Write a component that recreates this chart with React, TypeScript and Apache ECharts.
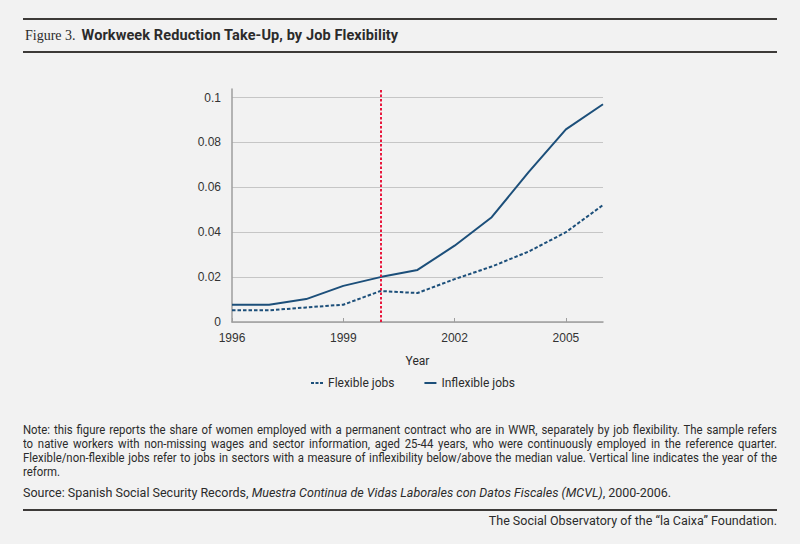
import { useEffect, useRef } from 'react'
import * as echarts from 'echarts'

// values
const years = [1996, 1997, 1998, 1999, 2000, 2001, 2002, 2003, 2004, 2005, 2006]
const flexibleJobs = [0.0052, 0.0052, 0.0065, 0.0077, 0.0138, 0.0129, 0.0191, 0.0247, 0.0314, 0.04, 0.0521]
const inflexibleJobs = [0.0077, 0.0077, 0.0102, 0.0161, 0.02, 0.0232, 0.034, 0.0467, 0.0669, 0.0858, 0.097]
const xTickYears = [1996, 1999, 2002, 2005]
const reformYear = 2000
const seriesNames = ['Flexible jobs', 'Inflexible jobs']

const noteLines = [
  'Note: this figure reports the share of women employed with a permanent contract who are in WWR, separately by job flexibility. The sample refers',
  'to native workers with non-missing wages and sector information, aged 25-44 years, who were continuously employed in the reference quarter.',
  'Flexible/non-flexible jobs refer to jobs in sectors with a measure of inflexibility below/above the median value. Vertical line indicates the year of the',
  'reform.',
]

const LINE_BLUE = '#1c4f7a'
const TEXT = '#2b2b2b'
const NOTE_SQUEEZE = 0.91

// legend icons: short solid bar and three dashes
const solidIcon = 'path://M0 0H12V2H0Z'
const dashedIcon = 'path://M0 0H3V2H0Z M4.5 0H7.5V2H4.5Z M9 0H12V2H9Z'

const App = () => {
  const chartRef = useRef<HTMLDivElement>(null)

  useEffect(() => {
    if (!chartRef.current) return
    const chart = echarts.init(chartRef.current, null, { renderer: 'svg' })

    const option = {
      animation: false,
      backgroundColor: 'transparent',
      grid: { left: 232, right: 197, top: 89, bottom: 222 },
      legend: {
        data: [
          { name: seriesNames[0], icon: dashedIcon },
          { name: seriesNames[1], icon: solidIcon },
        ],
        left: 311,
        top: 377,
        padding: 0,
        itemWidth: 12,
        itemHeight: 2,
        itemGap: 30,
        itemStyle: { color: LINE_BLUE, borderWidth: 0 },
        textStyle: { fontFamily: 'Roboto', fontSize: 12, color: TEXT },
      },
      xAxis: {
        type: 'value',
        min: 1996,
        max: 2006,
        name: 'Year',
        nameLocation: 'middle',
        nameGap: 33,
        nameTextStyle: { fontFamily: 'Roboto', fontSize: 12, color: TEXT },
        axisLine: { lineStyle: { color: '#9e9e9e', width: 1.5 } },
        axisTick: { show: true, inside: true, length: 4, customValues: xTickYears, lineStyle: { color: '#9e9e9e' } },
        axisLabel: {
          customValues: xTickYears,
          margin: 10,
          fontFamily: 'Liberation Sans',
          fontSize: 12,
          color: '#333',
          formatter: (v: number) => String(v),
        },
        splitLine: { show: false },
      },
      yAxis: {
        type: 'value',
        min: 0,
        max: 0.1038,
        interval: 0.02,
        axisLine: { show: true, lineStyle: { color: '#9e9e9e', width: 1.5 } },
        axisTick: { show: false },
        axisLabel: {
          showMaxLabel: false,
          margin: 11,
          fontFamily: 'Liberation Sans',
          fontSize: 12,
          color: '#333',
          padding: [0, 0, 6, 0],
          formatter: (v: number) => (Math.abs(v / 0.02 - Math.round(v / 0.02)) < 1e-6 ? String(+v.toFixed(2)) : ''),
        },
        splitLine: {
          show: true,
          showMaxLine: false,
          lineStyle: {
            color: ['#c6c6c6', '#c6c6c6', '#c6c6c6', '#c6c6c6', '#c6c6c6', '#c6c6c6', 'rgba(0,0,0,0)'],
            width: 1,
          },
        },
      },
      series: [
        {
          name: seriesNames[0],
          type: 'line',
          symbol: 'none',
          data: years.map((y, i) => [y, flexibleJobs[i]]),
          lineStyle: { color: LINE_BLUE, width: 2, type: [3.5, 2] },
          itemStyle: { color: LINE_BLUE },
          markLine: {
            silent: true,
            symbol: 'none',
            label: { show: false },
            lineStyle: { color: '#e8173c', width: 2, type: [2.5, 2] },
            data: [{ xAxis: reformYear }],
          },
        },
        {
          name: seriesNames[1],
          type: 'line',
          symbol: 'none',
          data: years.map((y, i) => [y, inflexibleJobs[i]]),
          lineStyle: { color: LINE_BLUE, width: 2 },
          itemStyle: { color: LINE_BLUE },
        },
      ],
    }

    chart.setOption(option as Record<string, unknown>)

    return () => {
      chart.dispose()
    }
  }, [])

  const body = {
    position: 'absolute' as const,
    left: 23,
    width: 754,
    fontFamily: 'Roboto',
    fontSize: 12.5,
    lineHeight: '14px',
    color: TEXT,
  }

  const rule = (top: number) => ({
    position: 'absolute' as const,
    left: 23,
    top,
    width: 754,
    height: 2,
    background: '#3d3a38',
  })

  return (
    <div style={{ position: 'absolute', left: 0, top: 0, width: 800, height: 544, background: '#f2f2f2', overflow: 'hidden' }}>
      <div ref={chartRef} style={{ position: 'absolute', left: 0, top: 0, width: 800, height: 544 }} />

      <div style={rule(18)} />
      <div style={{ position: 'absolute', left: 25, top: 27, lineHeight: '16px', color: TEXT, whiteSpace: 'nowrap' }}>
        <span style={{ fontFamily: 'Liberation Serif', fontSize: 14 }}>Figure 3.</span>
        <span style={{ fontFamily: 'Roboto', fontWeight: 700, fontSize: 14.5, letterSpacing: '0.1px', marginLeft: 6 }}>
          Workweek Reduction Take-Up, by Job Flexibility
        </span>
      </div>
      <div style={rule(51)} />

      {/* note set in a slightly condensed width, lines justified as in the print */}
      <div
        style={{
          ...body,
          top: 423,
          width: 754 / NOTE_SQUEEZE,
          transform: `scaleX(${NOTE_SQUEEZE})`,
          transformOrigin: 'left top',
        }}
      >
        {noteLines.map((line, i) => (
          <div
            key={i}
            style={{ textAlign: 'justify', textAlignLast: i < noteLines.length - 1 ? 'justify' : 'left' }}
          >
            {line}
          </div>
        ))}
      </div>

      <div style={{ ...body, top: 486, whiteSpace: 'nowrap' }}>
        Source: Spanish Social Security Records,{' '}
        <i>Muestra Continua de Vidas Laborales con Datos Fiscales (MCVL)</i>, 2000-2006.
      </div>

      <div style={rule(509)} />

      <div style={{ ...body, top: 514, textAlign: 'right', whiteSpace: 'nowrap' }}>
        The Social Observatory of the “la Caixa” Foundation.
      </div>
    </div>
  )
}

export default App
